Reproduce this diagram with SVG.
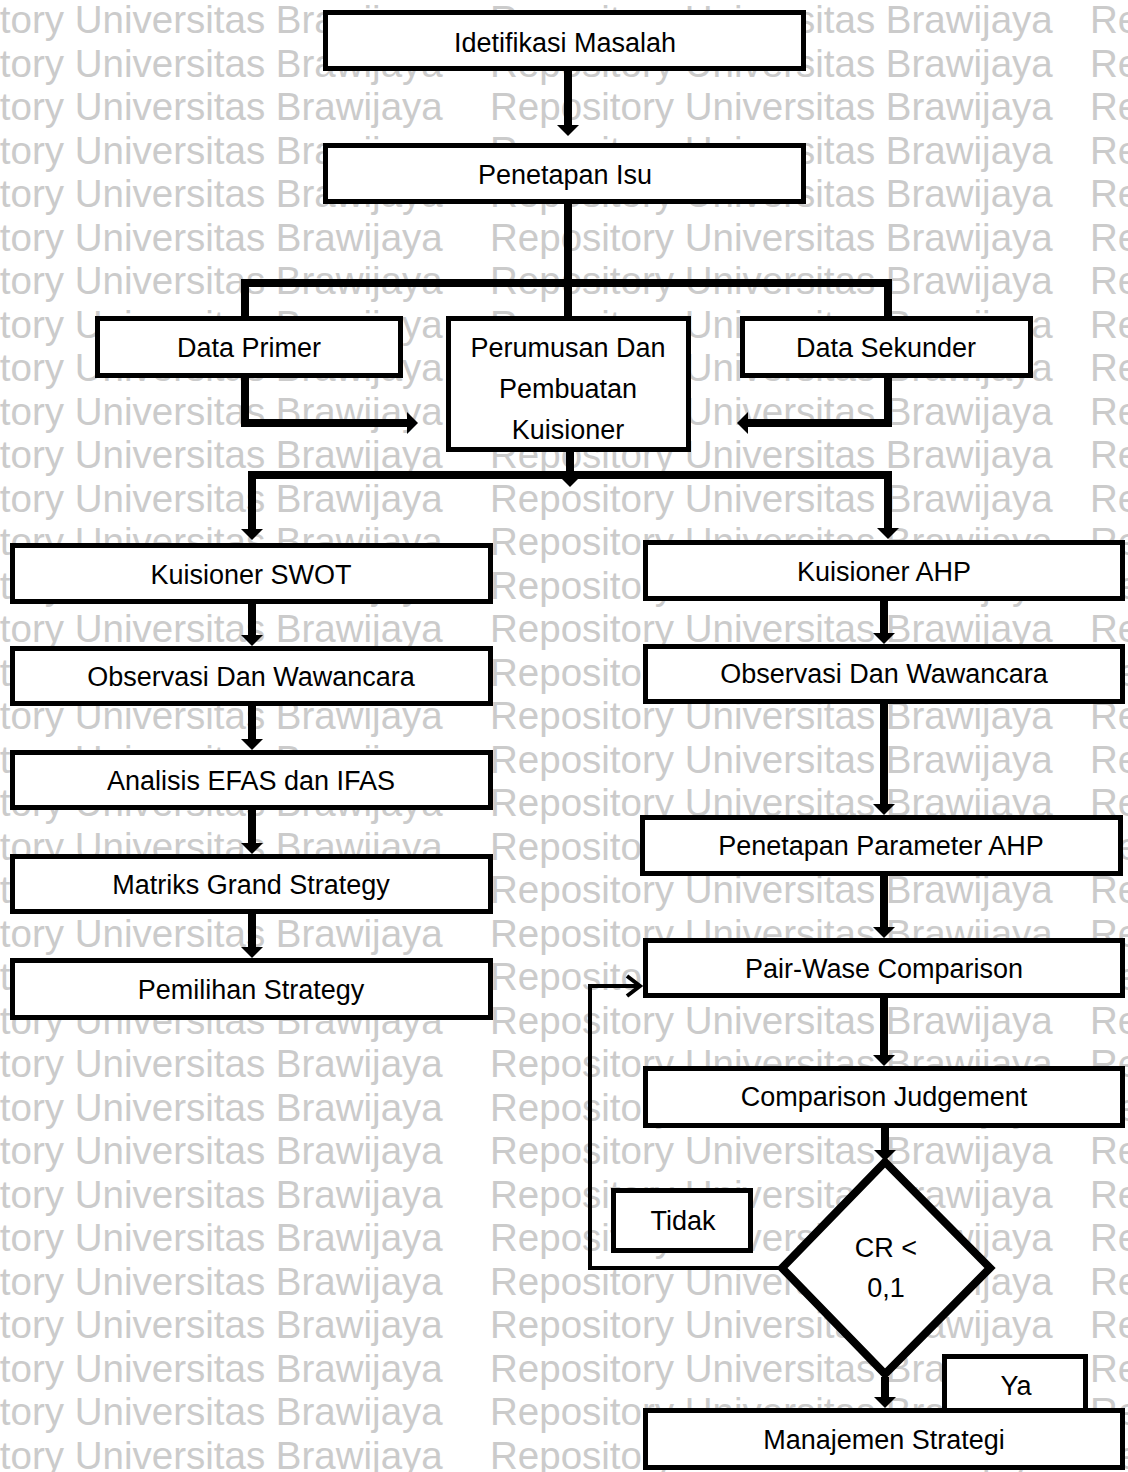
<svg xmlns="http://www.w3.org/2000/svg" width="1128" height="1472" viewBox="0 0 1128 1472">
<defs>
<style>
.wm{font-family:"Liberation Sans",Arial,sans-serif;font-size:38.5px;fill:#cbcbcb}
.box{fill:#fff;stroke:#000;stroke-width:5}
.dia{fill:#fff;stroke:#000;stroke-width:8;stroke-linejoin:miter}
.lbl{font-family:"Liberation Sans",Arial,sans-serif;font-size:27px;fill:#000;text-anchor:middle}
.con{fill:none;stroke:#000;stroke-width:8;stroke-linejoin:miter}
.loop{fill:none;stroke:#000;stroke-width:4;stroke-linejoin:miter}
</style>
<marker id="ah" markerUnits="userSpaceOnUse" viewBox="0 -12 12 24" refX="0" refY="0" markerWidth="12" markerHeight="24" orient="auto">
<path d="M0,-11 L11,0 L0,11 Z" fill="#000"/>
</marker>
<marker id="oh" markerUnits="userSpaceOnUse" viewBox="-16 -14 20 28" refX="0" refY="0" markerWidth="20" markerHeight="28" orient="auto">
<path d="M-13,-10 L0,0 L-13,10" fill="none" stroke="#000" stroke-width="4"/>
</marker>
<clipPath id="yaclip"><rect x="944" y="1354" width="146" height="42"/></clipPath>
</defs>
<rect x="0" y="0" width="1128" height="1472" fill="#fff"/>
<g id="watermark" class="wm">
<text y="33"><tspan x="-120">Repository Universitas Brawijaya</tspan><tspan x="490">Repository Universitas Brawijaya</tspan><tspan x="1090">Repository</tspan></text>
<text y="76.5"><tspan x="-120">Repository Universitas Brawijaya</tspan><tspan x="490">Repository Universitas Brawijaya</tspan><tspan x="1090">Repository</tspan></text>
<text y="120"><tspan x="-120">Repository Universitas Brawijaya</tspan><tspan x="490">Repository Universitas Brawijaya</tspan><tspan x="1090">Repository</tspan></text>
<text y="163.5"><tspan x="-120">Repository Universitas Brawijaya</tspan><tspan x="490">Repository Universitas Brawijaya</tspan><tspan x="1090">Repository</tspan></text>
<text y="207"><tspan x="-120">Repository Universitas Brawijaya</tspan><tspan x="490">Repository Universitas Brawijaya</tspan><tspan x="1090">Repository</tspan></text>
<text y="250.5"><tspan x="-120">Repository Universitas Brawijaya</tspan><tspan x="490">Repository Universitas Brawijaya</tspan><tspan x="1090">Repository</tspan></text>
<text y="294"><tspan x="-120">Repository Universitas Brawijaya</tspan><tspan x="490">Repository Universitas Brawijaya</tspan><tspan x="1090">Repository</tspan></text>
<text y="337.5"><tspan x="-120">Repository Universitas Brawijaya</tspan><tspan x="490">Repository Universitas Brawijaya</tspan><tspan x="1090">Repository</tspan></text>
<text y="381"><tspan x="-120">Repository Universitas Brawijaya</tspan><tspan x="490">Repository Universitas Brawijaya</tspan><tspan x="1090">Repository</tspan></text>
<text y="424.5"><tspan x="-120">Repository Universitas Brawijaya</tspan><tspan x="490">Repository Universitas Brawijaya</tspan><tspan x="1090">Repository</tspan></text>
<text y="468"><tspan x="-120">Repository Universitas Brawijaya</tspan><tspan x="490">Repository Universitas Brawijaya</tspan><tspan x="1090">Repository</tspan></text>
<text y="511.5"><tspan x="-120">Repository Universitas Brawijaya</tspan><tspan x="490">Repository Universitas Brawijaya</tspan><tspan x="1090">Repository</tspan></text>
<text y="555"><tspan x="-120">Repository Universitas Brawijaya</tspan><tspan x="490">Repository Universitas Brawijaya</tspan><tspan x="1090">Repository</tspan></text>
<text y="598.5"><tspan x="-120">Repository Universitas Brawijaya</tspan><tspan x="490">Repository Universitas Brawijaya</tspan><tspan x="1090">Repository</tspan></text>
<text y="642"><tspan x="-120">Repository Universitas Brawijaya</tspan><tspan x="490">Repository Universitas Brawijaya</tspan><tspan x="1090">Repository</tspan></text>
<text y="685.5"><tspan x="-120">Repository Universitas Brawijaya</tspan><tspan x="490">Repository Universitas Brawijaya</tspan><tspan x="1090">Repository</tspan></text>
<text y="729"><tspan x="-120">Repository Universitas Brawijaya</tspan><tspan x="490">Repository Universitas Brawijaya</tspan><tspan x="1090">Repository</tspan></text>
<text y="772.5"><tspan x="-120">Repository Universitas Brawijaya</tspan><tspan x="490">Repository Universitas Brawijaya</tspan><tspan x="1090">Repository</tspan></text>
<text y="816"><tspan x="-120">Repository Universitas Brawijaya</tspan><tspan x="490">Repository Universitas Brawijaya</tspan><tspan x="1090">Repository</tspan></text>
<text y="859.5"><tspan x="-120">Repository Universitas Brawijaya</tspan><tspan x="490">Repository Universitas Brawijaya</tspan><tspan x="1090">Repository</tspan></text>
<text y="903"><tspan x="-120">Repository Universitas Brawijaya</tspan><tspan x="490">Repository Universitas Brawijaya</tspan><tspan x="1090">Repository</tspan></text>
<text y="946.5"><tspan x="-120">Repository Universitas Brawijaya</tspan><tspan x="490">Repository Universitas Brawijaya</tspan><tspan x="1090">Repository</tspan></text>
<text y="990"><tspan x="-120">Repository Universitas Brawijaya</tspan><tspan x="490">Repository Universitas Brawijaya</tspan><tspan x="1090">Repository</tspan></text>
<text y="1033.5"><tspan x="-120">Repository Universitas Brawijaya</tspan><tspan x="490">Repository Universitas Brawijaya</tspan><tspan x="1090">Repository</tspan></text>
<text y="1077"><tspan x="-120">Repository Universitas Brawijaya</tspan><tspan x="490">Repository Universitas Brawijaya</tspan><tspan x="1090">Repository</tspan></text>
<text y="1120.5"><tspan x="-120">Repository Universitas Brawijaya</tspan><tspan x="490">Repository Universitas Brawijaya</tspan><tspan x="1090">Repository</tspan></text>
<text y="1164"><tspan x="-120">Repository Universitas Brawijaya</tspan><tspan x="490">Repository Universitas Brawijaya</tspan><tspan x="1090">Repository</tspan></text>
<text y="1207.5"><tspan x="-120">Repository Universitas Brawijaya</tspan><tspan x="490">Repository Universitas Brawijaya</tspan><tspan x="1090">Repository</tspan></text>
<text y="1251"><tspan x="-120">Repository Universitas Brawijaya</tspan><tspan x="490">Repository Universitas Brawijaya</tspan><tspan x="1090">Repository</tspan></text>
<text y="1294.5"><tspan x="-120">Repository Universitas Brawijaya</tspan><tspan x="490">Repository Universitas Brawijaya</tspan><tspan x="1090">Repository</tspan></text>
<text y="1338"><tspan x="-120">Repository Universitas Brawijaya</tspan><tspan x="490">Repository Universitas Brawijaya</tspan><tspan x="1090">Repository</tspan></text>
<text y="1381.5"><tspan x="-120">Repository Universitas Brawijaya</tspan><tspan x="490">Repository Universitas Brawijaya</tspan><tspan x="1090">Repository</tspan></text>
<text y="1425"><tspan x="-120">Repository Universitas Brawijaya</tspan><tspan x="490">Repository Universitas Brawijaya</tspan><tspan x="1090">Repository</tspan></text>
<text y="1468.5"><tspan x="-120">Repository Universitas Brawijaya</tspan><tspan x="490">Repository Universitas Brawijaya</tspan><tspan x="1090">Repository</tspan></text>
</g>
<g id="connectors">
<path class="con" d="M568,71 V125" marker-end="url(#ah)"/>
<path class="con" d="M568,204 V316"/>
<path class="con" d="M245,316 V283 H888 V316"/>
<path class="con" d="M245,378 V423 H407" marker-end="url(#ah)"/>
<path class="con" d="M888,378 V423 H748" marker-end="url(#ah)"/>
<path class="con" d="M570,452 V476" marker-end="url(#ah)"/>
<path class="con" d="M570,475 H252 V529" marker-end="url(#ah)"/>
<path class="con" d="M570,475 H888 V528" marker-end="url(#ah)"/>
<path class="con" d="M252,604 V635" marker-end="url(#ah)"/>
<path class="con" d="M252,706 V739" marker-end="url(#ah)"/>
<path class="con" d="M252,810 V843" marker-end="url(#ah)"/>
<path class="con" d="M252,914 V947" marker-end="url(#ah)"/>
<path class="con" d="M884,601 V633" marker-end="url(#ah)"/>
<path class="con" d="M884,704 V804" marker-end="url(#ah)"/>
<path class="con" d="M884,876 V927" marker-end="url(#ah)"/>
<path class="con" d="M884,998 V1055" marker-end="url(#ah)"/>
<path class="con" d="M885,1128 V1150" marker-end="url(#ah)"/>
<path class="con" d="M885,1377 V1397" marker-end="url(#ah)"/>
<path class="loop" d="M782,1268 H590 V986 H640" marker-end="url(#oh)"/>
</g>
<g id="n-identifikasi"><rect class="box" x="325.5" y="12.5" width="478" height="56"/><text class="lbl" x="565" y="52">Idetifikasi Masalah</text></g>
<g id="n-penetapan-isu"><rect class="box" x="325.5" y="145.5" width="478" height="56"/><text class="lbl" x="565" y="184">Penetapan Isu</text></g>
<g id="n-data-primer"><rect class="box" x="97.5" y="318.5" width="303" height="57"/><text class="lbl" x="249" y="357">Data Primer</text></g>
<g id="n-perumusan"><rect class="box" x="448.5" y="318.5" width="240" height="131"/><text class="lbl" x="568" y="357">Perumusan Dan</text><text class="lbl" x="568" y="398">Pembuatan</text><text class="lbl" x="568" y="439">Kuisioner</text></g>
<g id="n-data-sekunder"><rect class="box" x="742.5" y="318.5" width="288" height="57"/><text class="lbl" x="886" y="357">Data Sekunder</text></g>
<g id="n-kuisioner-swot"><rect class="box" x="12.5" y="545.5" width="478" height="56"/><text class="lbl" x="251" y="584">Kuisioner SWOT</text></g>
<g id="n-observasi-swot"><rect class="box" x="12.5" y="648.5" width="478" height="55"/><text class="lbl" x="251" y="686">Observasi Dan Wawancara</text></g>
<g id="n-analisis"><rect class="box" x="12.5" y="752.5" width="478" height="55"/><text class="lbl" x="251" y="790">Analisis EFAS dan IFAS</text></g>
<g id="n-matriks"><rect class="box" x="12.5" y="856.5" width="478" height="55"/><text class="lbl" x="251" y="894">Matriks Grand Strategy</text></g>
<g id="n-pemilihan"><rect class="box" x="12.5" y="960.5" width="478" height="57"/><text class="lbl" x="251" y="999">Pemilihan Strategy</text></g>
<g id="n-kuisioner-ahp"><rect class="box" x="645.5" y="542.5" width="477" height="56"/><text class="lbl" x="884" y="581">Kuisioner AHP</text></g>
<g id="n-observasi-ahp"><rect class="box" x="645.5" y="646.5" width="477" height="55"/><text class="lbl" x="884" y="683">Observasi Dan Wawancara</text></g>
<g id="n-parameter"><rect class="box" x="642.5" y="817.5" width="478" height="56"/><text class="lbl" x="881" y="855">Penetapan Parameter AHP</text></g>
<g id="n-pairwase"><rect class="box" x="645.5" y="940.5" width="477" height="55"/><text class="lbl" x="884" y="978">Pair-Wase Comparison</text></g>
<g id="n-judgement"><rect class="box" x="645.5" y="1068.5" width="477" height="57"/><text class="lbl" x="884" y="1106">Comparison Judgement</text></g>
<g id="n-cr"><path class="dia" d="M885,1162 L990,1268 L885,1374 L782,1268 Z"/><text class="lbl" x="886" y="1257">CR &lt;</text><text class="lbl" x="886" y="1297">0,1</text></g>
<g id="n-tidak"><rect class="box" x="613.5" y="1190.5" width="137" height="60"/><text class="lbl" x="683" y="1230">Tidak</text></g>
<g id="n-ya"><rect class="box" x="944.5" y="1356.5" width="141" height="56"/><text class="lbl" x="1016" y="1395" clip-path="url(#yaclip)">Ya</text></g>
<g id="n-manajemen"><rect class="box" x="645.5" y="1410.5" width="477" height="57"/><text class="lbl" x="884" y="1449">Manajemen Strategi</text></g>
</svg>
